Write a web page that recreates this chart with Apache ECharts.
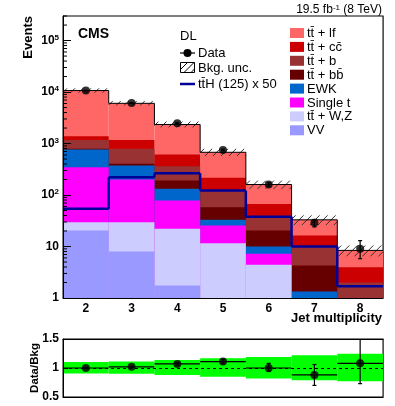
<!DOCTYPE html>
<html><head><meta charset="utf-8">
<script src="https://cdn.jsdelivr.net/npm/echarts@6/dist/echarts.min.js"></script>
<style>html,body{margin:0;padding:0;background:#fff}#c{width:395px;height:406px}</style>
</head><body><div id="c"></div>
<script>
// ---------------- data ----------------
const categories = ['2','3','4','5','6','7','8'];
// background components, per jet-multiplicity bin (bottom of stack first)
const vv      = [20.5, 8.0, 1.75, 0.4, 0.1, 0.05, 0.01];
const ttWZ    = [9.1, 21.6, 20.3, 11.2, 4.3, 0.6, 0.14];
const singleT = [317, 170, 56, 14, 2.8, 0.2, 0.05];
const ewk     = [418, 173, 54, 7.4, 2.8, 0.49, 0.1];
const ttBB    = [25, 31, 59, 25, 10.4, 2.96, 0.6];
const ttB     = [387, 386, 171, 61, 16.6, 5.4, 1.1];
const ttCC    = [207, 387, 248, 97, 30, 6.6, 1.96];
const ttLF    = [9316, 4863, 1730, 460, 93, 16.7, 4.44];
// signal (x50)
const ttH50   = [54, 222, 265, 122, 38, 10, 1.7];
// data
const dataVal   = [10700, 6140, 2490, 747, 160, 29, 9];
const dataErrUp = [103, 78, 50, 27, 13, 4.5, 4];
const dataErrDn = [103, 78, 50, 27, 13, 5, 3.2];
// background uncertainty band (relative, upper/lower)
const bkgUncUp = [1.105, 1.11, 1.14, 1.17, 1.19, 1.22, 1.245];
const bkgUncDn = [0.907, 0.90, 0.88, 0.85, 0.82, 0.79, 0.77];
// ratio panel
const ratioVal   = [1.00, 1.02, 1.07, 1.11, 1.00, 0.88, 1.08];
const ratioErrUp = [0.01, 0.013, 0.02, 0.04, 0.08, 0.18, 0.45];
const ratioErrDn = [0.01, 0.013, 0.02, 0.04, 0.06, 0.18, 0.35];
// tick labels
const yMajorTicks = [1, 10, 100, 1000, 10000, 100000];
const ratioTicks  = [0.5, 1, 1.5];

// ---------------- build ----------------
const FONT = 'Liberation Sans, Arial, Helvetica, sans-serif';
const layers = [
  {name:'VV', vals:vv, color:'#9999ff'},
  {name:'tt\u0304 + W,Z', vals:ttWZ, color:'#ccccff'},
  {name:'Single t', vals:singleT, color:'#ff00ff'},
  {name:'EWK', vals:ewk, color:'#0066cc'},
  {name:'tt\u0304 + bb\u0304', vals:ttBB, color:'#660000'},
  {name:'tt\u0304 + b', vals:ttB, color:'#993333'},
  {name:'tt\u0304 + cc\u0304', vals:ttCC, color:'#cc0000'},
  {name:'tt\u0304 + lf', vals:ttLF, color:'#ff6666'}
];
const cum = [];
let run = categories.map(() => 0);
layers.forEach(l => { run = run.map((r, i) => r + l.vals[i]); cum.push(run.slice()); });
const total = cum[cum.length - 1];

const barSeries = [];
for (let k = layers.length - 1; k >= 0; k--) {
  barSeries.push({
    type:'bar', name: layers[k].name, xAxisIndex:0, yAxisIndex:0,
    barWidth:'100%', barGap:'-100%', barCategoryGap:'0%',
    itemStyle:{color: layers[k].color},
    data: cum[k].map(v => v >= 1 ? v : '-'),
    silent:true, clip:true, z:2
  });
}

function stepRender(color, width) {
  return function (params, api) {
    const i = api.value(0), v = api.value(1), pv = api.value(2);
    const c = api.coord([i, v]);
    const w = api.size([1, 0])[0];
    const x0 = c[0] - w / 2, x1 = c[0] + w / 2;
    const kids = [{type:'line', shape:{x1:x0, y1:c[1], x2:x1, y2:c[1]}, style:{stroke:color, lineWidth:width}}];
    if (i > 0) {
      const p = api.coord([i, pv]);
      kids.push({type:'line', shape:{x1:x0, y1:p[1], x2:x0, y2:c[1]}, style:{stroke:color, lineWidth:width}});
    }
    return {type:'group', children:kids};
  };
}

const hatchData = total.map((t, i) => [i, t * bkgUncDn[i], t * bkgUncUp[i]]);
function hatchRender(params, api) {
  const i = api.value(0);
  const lo = api.coord([i, api.value(1)]), hi = api.coord([i, api.value(2)]);
  const w = api.size([1, 0])[0];
  const x0 = lo[0] - w / 2, x1 = lo[0] + w / 2;
  const yb = lo[1], yt = hi[1], h = yb - yt;
  const kids = [];
  for (let a = x0 - h + 4; a < x1; a += 8) {
    let sx = a, sy = yb, ex = a + h, ey = yt;
    if (sx < x0) { sy = yb - (x0 - sx); sx = x0; }
    if (ex > x1) { ey = yb - (x1 - a); ex = x1; }
    if (ex > sx) kids.push({type:'line', shape:{x1:sx, y1:sy, x2:ex, y2:ey}, style:{stroke:'#333', lineWidth:1}});
  }
  return {type:'group', children:kids};
}

function errRender(params, api) {
  const i = api.value(0);
  const c = api.coord([i, api.value(1)]);
  const lo = api.coord([i, api.value(2)]), hi = api.coord([i, api.value(3)]);
  const st = {stroke:'#000', lineWidth:1.2};
  return {type:'group', children:[
    {type:'line', shape:{x1:c[0], y1:lo[1], x2:c[0], y2:hi[1]}, style:st},
    {type:'line', shape:{x1:c[0]-2, y1:lo[1], x2:c[0]+2, y2:lo[1]}, style:st},
    {type:'line', shape:{x1:c[0]-2, y1:hi[1], x2:c[0]+2, y2:hi[1]}, style:st}
  ]};
}
function ratioErrRender(params, api) {
  const i = api.value(0);
  const c = api.coord([i, api.value(1)]);
  const lo = api.coord([i, api.value(2)]), hi = api.coord([i, api.value(3)]);
  const w = api.size([1, 0])[0];
  const st = {stroke:'#000', lineWidth:1.2};
  return {type:'group', children:[
    {type:'line', shape:{x1:c[0]-w/2, y1:c[1], x2:c[0]+w/2, y2:c[1]}, style:st},
    {type:'line', shape:{x1:c[0], y1:lo[1], x2:c[0], y2:hi[1]}, style:st},
    {type:'line', shape:{x1:c[0]-2, y1:lo[1], x2:c[0]+2, y2:lo[1]}, style:st},
    {type:'line', shape:{x1:c[0]-2, y1:hi[1], x2:c[0]+2, y2:hi[1]}, style:st}
  ]};
}
function bandRender(params, api) {
  const i = api.value(0);
  const lo = api.coord([i, api.value(1)]), hi = api.coord([i, api.value(2)]);
  const w = api.size([1, 0])[0];
  return {type:'rect', shape:{x:lo[0]-w/2, y:hi[1], width:w, height:lo[1]-hi[1]}, style:{fill:'#00ff00'}};
}

// minor log ticks (2..9 x 10^k)
const minorTickVals = [];
yMajorTicks.forEach(d => { for (let m = 2; m <= 9; m++) if (m * d <= 3e5) minorTickVals.push([0, m * d]); });
function minorRender(params, api) {
  const p = api.coord([0, api.value(1)]);
  const x = params.coordSys.x;
  return {type:'line', shape:{x1:x, y1:p[1], x2:x+4, y2:p[1]}, style:{stroke:'#000', lineWidth:1}};
}

const supMap = {1:'', 2:'2', 3:'3', 4:'4', 5:'5'};
function logLabel(v) {
  const e = Math.round(Math.log10(v));
  if (Math.abs(v - Math.pow(10, e)) > 1e-6 * v) return '';
  if (!yMajorTicks.includes(Math.pow(10, e))) return '';
  if (e === 0) return '{n|1}';
  if (e === 1) return '{n|10}';
  return '{n|10}{s|' + supMap[e] + '}';
}

const axisBlack = {lineStyle:{color:'#000', width:1}};

// legend graphics
const legY0 = 33, legDY = 13.9;
const legendRight = [];
for (let k = layers.length - 1, r = 0; k >= 0; k--, r++) {
  const cy = legY0 + r * legDY;
  legendRight.push({type:'rect', shape:{x:290, y:cy-5, width:14, height:10}, style:{fill:layers[k].color}});
  legendRight.push({type:'text', style:{x:307, y:cy+0.5, text:layers[k].name, font:'13px ' + FONT, fill:'#000', verticalAlign:'middle'}});
}

const option = {
  animation:false,
  backgroundColor:'#fff',
  textStyle:{fontFamily:FONT},
  grid:[
    {left:63, top:16, width:320, height:282, show:true, borderColor:'#000', borderWidth:1, backgroundColor:'transparent', containLabel:false, outerBoundsMode:'none'},
    {left:63, top:339, width:320, height:58, show:true, borderColor:'#000', borderWidth:1, backgroundColor:'transparent', containLabel:false, outerBoundsMode:'none'}
  ],
  xAxis:[
    {type:'category', gridIndex:0, data:categories, boundaryGap:true, z:10,
     axisLine:axisBlack, axisTick:{inside:true, length:8, lineStyle:{color:'#000'}},
     axisLabel:{color:'#000', fontWeight:'bold', fontSize:12, margin:5, fontFamily:FONT}},
    {type:'category', gridIndex:1, data:categories, position:'bottom', z:10,
     axisLine:axisBlack, axisTick:{show:false}, axisLabel:{show:false}},
    {type:'category', gridIndex:1, data:categories, position:'top', z:10,
     axisLine:axisBlack, axisTick:{inside:true, length:4, lineStyle:{color:'#000'}}, axisLabel:{show:false}}
  ],
  yAxis:[
    {type:'log', gridIndex:0, logBase:10, min:1, max:3e5, z:10,
     axisLine:{show:true, lineStyle:{color:'#000'}},
     axisTick:{show:true, inside:true, length:8, lineStyle:{color:'#000'}},
     splitLine:{show:false},
     axisLabel:{formatter:logLabel, margin:4, showMaxLabel:false,
       rich:{n:{fontSize:12, fontWeight:'bold', color:'#000', fontFamily:FONT},
             s:{fontSize:8, fontWeight:'bold', color:'#000', fontFamily:FONT, verticalAlign:'top', padding:[0,0,6,0]}}}},
    {type:'log', gridIndex:0, logBase:10, min:1, max:3e5, position:'right', z:10,
     axisLine:{show:true, lineStyle:{color:'#555'}}, axisTick:{show:false}, axisLabel:{show:false}, splitLine:{show:false}},
    {type:'value', gridIndex:1, min:ratioTicks[0], max:ratioTicks[2], interval:0.5, z:10,
     axisLine:{show:true, lineStyle:{color:'#000'}},
     axisTick:{show:true, inside:true, length:5, lineStyle:{color:'#000'}},
     splitLine:{show:false},
     axisLabel:{color:'#000', fontWeight:'bold', fontSize:12, margin:4, fontFamily:FONT,
       formatter:v => ratioTicks.includes(v) ? String(v) : ''}},
    {type:'value', gridIndex:1, min:0.5, max:1.5, position:'right', z:10,
     axisLine:{show:true, lineStyle:{color:'#555'}}, axisTick:{show:false}, axisLabel:{show:false}, splitLine:{show:false}}
  ],
  series: barSeries.concat([
    {type:'custom', name:'Bkg. unc.', xAxisIndex:0, yAxisIndex:0, renderItem:hatchRender, clip:true, silent:true, z:3,
     encode:{x:0, y:[1,2]}, data:hatchData},
    {type:'custom', name:'Total', xAxisIndex:0, yAxisIndex:0, renderItem:stepRender('#000', 1), clip:true, silent:true, z:3,
     encode:{x:0, y:1}, data: total.map((t, i) => [i, t, i > 0 ? total[i-1] : t])},
    {type:'custom', name:'tt\u0304H (125) x 50', xAxisIndex:0, yAxisIndex:0, renderItem:stepRender('#000099', 2.5), clip:true, silent:true, z:4,
     encode:{x:0, y:1}, data: ttH50.map((t, i) => [i, t, i > 0 ? ttH50[i-1] : t])},
    {type:'custom', name:'Data err', xAxisIndex:0, yAxisIndex:0, renderItem:errRender, clip:true, silent:true, z:5,
     encode:{x:0, y:[2,3]}, data: dataVal.map((v, i) => [i, v, v - dataErrDn[i], v + dataErrUp[i]])},
    {type:'scatter', name:'Data', xAxisIndex:0, yAxisIndex:0, symbol:'circle', symbolSize:8, silent:true, z:6,
     itemStyle:{color:'#000'}, data: dataVal.map((v, i) => [i, v])},
    {type:'custom', name:'minor ticks', xAxisIndex:0, yAxisIndex:0, renderItem:minorRender, silent:true, z:11,
     encode:{x:0, y:1}, data:minorTickVals},
    // ratio panel
    {type:'custom', name:'Ratio unc.', xAxisIndex:1, yAxisIndex:2, renderItem:bandRender, clip:true, silent:true, z:2,
     encode:{x:0, y:[1,2]}, data: bkgUncDn.map((d, i) => [i, d, bkgUncUp[i]]),
     markLine:{silent:true, symbol:'none', label:{show:false}, animation:false,
       lineStyle:{type:[3,3], color:'#000', width:1}, data:[{yAxis:1}]}},
    {type:'custom', name:'Ratio err', xAxisIndex:1, yAxisIndex:2, renderItem:ratioErrRender, clip:true, silent:true, z:5,
     encode:{x:0, y:[2,3]}, data: ratioVal.map((v, i) => [i, v, v - ratioErrDn[i], v + ratioErrUp[i]])},
    {type:'scatter', name:'Data/Bkg', xAxisIndex:1, yAxisIndex:2, symbol:'circle', symbolSize:8, silent:true, z:6,
     itemStyle:{color:'#000'}, data: ratioVal.map((v, i) => [i, v])}
  ]),
  graphic: [
    {type:'text', style:{x:382, y:10, text:'{a|19.5 fb}{s|-1}{a| (8 TeV)}', align:'right', verticalAlign:'middle',
      rich:{a:{fontSize:12, fontFamily:FONT, fill:'#000'}, s:{fontSize:8, fontFamily:FONT, fill:'#000', verticalAlign:'top'}}}},
    {type:'text', style:{x:78, y:34.5, text:'CMS', font:'bold 14px ' + FONT, fill:'#000', verticalAlign:'middle'}},
    {type:'text', style:{x:180, y:36, text:'DL', font:'13px ' + FONT, fill:'#000', verticalAlign:'middle'}},
    {type:'text', style:{x:382, y:318, text:'Jet multiplicity', font:'bold 13px ' + FONT, fill:'#000', align:'right', verticalAlign:'middle'}},
    {type:'text', x:28, y:16, rotation:Math.PI/2, style:{x:0, y:0, text:'Events', font:'bold 13px ' + FONT, fill:'#000', align:'right', verticalAlign:'middle'}},
    {type:'text', x:35, y:368, rotation:Math.PI/2, style:{x:0, y:0, text:'Data/Bkg', font:'bold 11.5px ' + FONT, fill:'#000', align:'center', verticalAlign:'middle'}},
    // left legend column
    {type:'line', shape:{x1:180, y1:53, x2:195, y2:53}, style:{stroke:'#000', lineWidth:1.2}},
    {type:'circle', shape:{cx:187.5, cy:53, r:4}, style:{fill:'#000'}},
    {type:'text', style:{x:198, y:53.5, text:'Data', font:'13px ' + FONT, fill:'#000', verticalAlign:'middle'}},
    {type:'rect', shape:{x:180.5, y:62.5, width:14, height:10}, style:{fill:'none', stroke:'#000', lineWidth:1}},
    {type:'line', shape:{x1:180.5, y1:69.5, x2:187.5, y2:62.5}, style:{stroke:'#000', lineWidth:1}},
    {type:'line', shape:{x1:184, y1:72.5, x2:194, y2:62.5}, style:{stroke:'#000', lineWidth:1}},
    {type:'line', shape:{x1:191, y1:72.5, x2:194.5, y2:69}, style:{stroke:'#000', lineWidth:1}},
    {type:'text', style:{x:198, y:68, text:'Bkg. unc.', font:'13px ' + FONT, fill:'#000', verticalAlign:'middle'}},
    {type:'line', shape:{x1:180, y1:84, x2:195, y2:84}, style:{stroke:'#000099', lineWidth:2.5}},
    {type:'text', style:{x:198, y:84, text:'tt\u0304H (125) x 50', font:'13px ' + FONT, fill:'#000', verticalAlign:'middle'}}
  ].concat(legendRight)
};

const chart = echarts.init(document.getElementById('c'), null, {renderer:'canvas', width:395, height:406});
chart.setOption(option);
</script>
</body></html>
